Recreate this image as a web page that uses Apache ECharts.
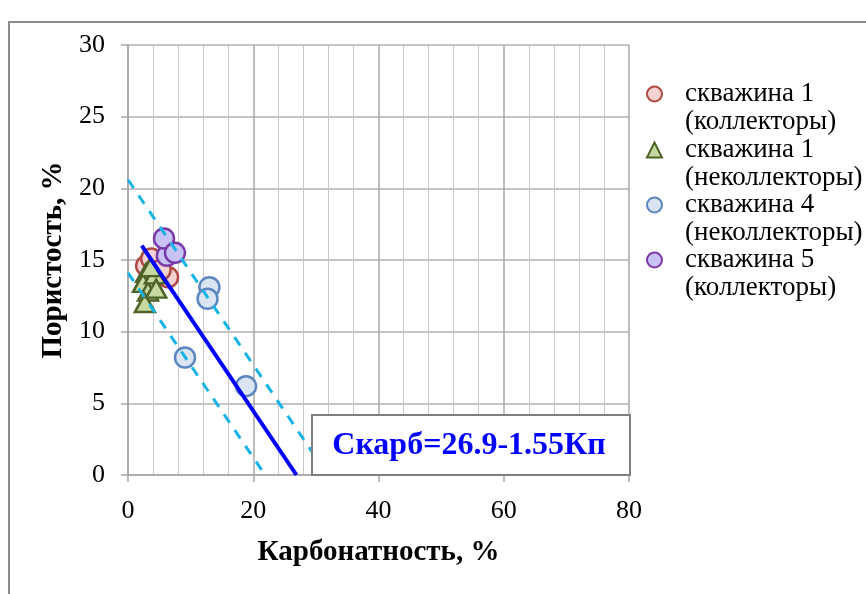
<!DOCTYPE html>
<html>
<head>
<meta charset="utf-8">
<script src="https://cdn.jsdelivr.net/npm/echarts@6/dist/echarts.min.js"></script>
<style>
html,body{margin:0;padding:0;background:#fff;}
#chart{width:866px;height:594px;}
</style>
</head>
<body>
<div id="chart"></div>
<script>
// ---- data ----
var seriesNames = ['скважина 1\n(коллекторы)', 'скважина 1\n(неколлекторы)', 'скважина 4\n(неколлекторы)', 'скважина 5\n(коллекторы)'];
var well1CollX = [2.9, 3.7, 6.4, 5.2];
var well1CollY = [14.6, 15.1, 13.8, 14.3];
var well1NonX = [2.9, 2.4, 3.2, 2.7, 4.3, 4.5, 3.6];
var well1NonY = [14.1, 13.4, 12.8, 12.0, 14.0, 13.0, 14.5];
var well4NonX = [13.0, 12.7, 9.1, 18.85];
var well4NonY = [13.1, 12.3, 8.2, 6.2];
var well5CollX = [6.2, 5.75, 7.5];
var well5CollY = [15.3, 16.5, 15.5];
var trendX = [2.2, 26.9];
var trendY = [16.0, 0];
var upperX = [0, 31.9];
var upperY = [20.6, 0];
var lowerX = [0, 21.9];
var lowerY = [14.1, 0];
var xTicks = [0, 20, 40, 60, 80];
var yTicks = [0, 5, 10, 15, 20, 25, 30];
var equationText = 'Скарб=26.9-1.55Кп';
var xTitle = 'Карбонатность, %';
var yTitle = 'Пористость, %';

function pairs(xs, ys) { return xs.map(function (x, i) { return [x, ys[i]]; }); }

var FONT = '"Liberation Serif", "Times New Roman", serif';
var chart = echarts.init(document.getElementById('chart'), null, {renderer: 'canvas'});

function legendAt(name, top, icon) {
  return {
    show: true, orient: 'vertical', left: 646, top: top, padding: 0,
    itemWidth: 15, itemHeight: 15, itemGap: 0,
    data: [{name: name, icon: icon}],
    selectedMode: false,
    formatter: function (n) { return ' \n' + n; },
    textStyle: {fontFamily: FONT, fontSize: 27, color: '#000', lineHeight: 28, padding: [0, 0, 0, 18]}
  };
}

var option = {
  animation: false,
  backgroundColor: '#fff',
  grid: {left: 128, right: 237, top: 45, bottom: 119, containLabel: false},
  legend: [
    legendAt(seriesNames[0], 52, 'circle'),
    legendAt(seriesNames[1], 108, 'triangle'),
    legendAt(seriesNames[2], 163, 'circle'),
    legendAt(seriesNames[3], 218, 'circle')
  ],
  xAxis: {
    type: 'value', min: xTicks[0], max: xTicks[xTicks.length - 1], interval: 20,
    name: xTitle, nameLocation: 'middle', nameGap: 63,
    nameTextStyle: {fontFamily: FONT, fontSize: 29, fontWeight: 'bold', color: '#000'},
    axisLine: {show: true, lineStyle: {color: '#a6a6a6', width: 1.5}},
    axisTick: {show: true, length: 7, lineStyle: {color: '#a6a6a6', width: 1.5}},
    axisLabel: {fontFamily: FONT, fontSize: 26, color: '#000', margin: 23},
    splitLine: {show: true, lineStyle: {color: '#a8a8a8', width: 1.5}},
    minorTick: {show: false, splitNumber: 5},
    minorSplitLine: {show: true, lineStyle: {color: '#c8c8c8', width: 1}}
  },
  yAxis: {
    type: 'value', min: yTicks[0], max: yTicks[yTicks.length - 1], interval: 5,
    name: yTitle, nameLocation: 'middle', nameGap: 60, nameRotate: 90,
    nameTextStyle: {fontFamily: FONT, fontSize: 29, fontWeight: 'bold', color: '#000'},
    axisLine: {show: true, lineStyle: {color: '#a6a6a6', width: 1.5}},
    axisTick: {show: true, length: 7, lineStyle: {color: '#a6a6a6', width: 1.5}},
    axisLabel: {fontFamily: FONT, fontSize: 26, color: '#000', margin: 23},
    splitLine: {show: true, lineStyle: {color: '#b0b0b0', width: 1.5}}
  },
  series: [
    {name: seriesNames[0], type: 'scatter', symbol: 'circle', symbolSize: 20,
     data: pairs(well1CollX, well1CollY),
     itemStyle: {color: '#f2d3d2', borderColor: '#b04a45', borderWidth: 2.5, opacity: 1}},
    {name: seriesNames[1], type: 'scatter', symbol: 'triangle', symbolSize: [20, 18],
     data: pairs(well1NonX, well1NonY),
     itemStyle: {color: '#c6d9a0', borderColor: '#4f6228', borderWidth: 2.5, opacity: 1}},
    {name: seriesNames[2], type: 'scatter', symbol: 'circle', symbolSize: 20,
     data: pairs(well4NonX, well4NonY),
     itemStyle: {color: '#dbe5f1', borderColor: '#5b87c0', borderWidth: 2.5, opacity: 1}},
    {name: seriesNames[3], type: 'scatter', symbol: 'circle', symbolSize: 20,
     data: pairs(well5CollX, well5CollY),
     itemStyle: {color: '#c9c3f5', borderColor: '#7a3aa8', borderWidth: 2.5, opacity: 1}},
    {name: 'upper', type: 'line', data: pairs(upperX, upperY), symbol: 'none', silent: true,
     lineStyle: {color: '#17b3e6', width: 3, type: [10, 9]}, z: 5},
    {name: 'lower', type: 'line', data: pairs(lowerX, lowerY), symbol: 'none', silent: true,
     lineStyle: {color: '#17b3e6', width: 3, type: [10, 9]}, z: 5},
    {name: 'trend', type: 'line', data: pairs(trendX, trendY), symbol: 'none', silent: true,
     lineStyle: {color: '#0000ff', width: 4}, z: 6}
  ],
  graphic: [
    {type: 'rect', z: -10, shape: {x: 9, y: 22, width: 900, height: 620},
     style: {fill: 'none', stroke: '#8c8c8c', lineWidth: 2}},
    {type: 'rect', z: 100, shape: {x: 312, y: 415, width: 318, height: 60},
     style: {fill: '#fff', stroke: '#7f7f7f', lineWidth: 2}},
    {type: 'text', z: 101, x: 469, y: 446,
     style: {text: equationText, fill: '#0000ff', font: 'bold 32px ' + FONT, align: 'center', verticalAlign: 'middle'}}
  ]
};
chart.setOption(option);
</script>
</body>
</html>
